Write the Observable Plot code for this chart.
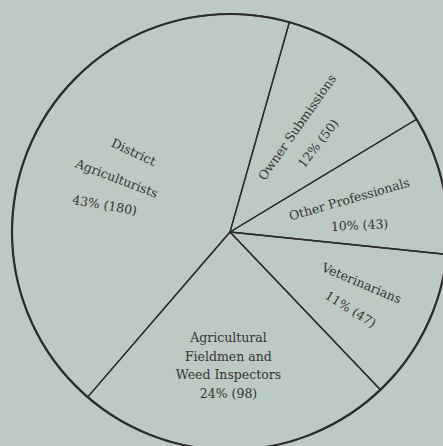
<!DOCTYPE html>
<html><head><meta charset="utf-8">
<script src="https://cdn.jsdelivr.net/npm/d3@7"></script>
<script src="https://cdn.jsdelivr.net/npm/@observablehq/plot@0.6"></script>
<style>html,body{margin:0;padding:0;background:#bdc9c3;overflow:hidden}</style>
</head><body><div id="chart"></div>
<script>
// ---- data ----
const categories = ["Owner Submissions", "Other Professionals", "Veterinarians", "Agricultural Fieldmen and Weed Inspectors", "District Agriculturists"];
const counts = [50, 43, 47, 98, 180];
const percents = [12, 10, 11, 24, 43];
const labelLines = [["Owner Submissions"], ["Other Professionals"], ["Veterinarians"], ["Agricultural", "Fieldmen and", "Weed Inspectors"], ["District", "Agriculturists"]];

// ---- layout (not data) ----
const startDeg = 15.8;           // first slice boundary, clockwise from 12 o'clock
const W = 443, H = 446, CX = 230, CY = 232, R = 218;
// label line placement: slice index, line index (-1 = percent line), polar angle (deg), radius fraction, rotation
const labelLayout = [
  {s: 4, l: 0, a: 309.5, r: 0.577, rot: 25},
  {s: 4, l: 1, a: 295.3, r: 0.578, rot: 21},
  {s: 4, l: -1, a: 282.1, r: 0.591, rot: 10},
  {s: 0, l: 0, a: 32.5, r: 0.571, rot: -55},
  {s: 0, l: -1, a: 44.7, r: 0.574, rot: -52},
  {s: 1, l: 0, a: 74.5, r: 0.566, rot: -16},
  {s: 1, l: -1, a: 86.9, r: 0.593, rot: -3},
  {s: 2, l: 0, a: 111.3, r: 0.645, rot: 23},
  {s: 2, l: -1, a: 122.7, r: 0.654, rot: 32},
  {s: 3, l: 0, a: 181.1, r: 0.486, rot: 0},
  {s: 3, l: 1, a: 181.0, r: 0.573, rot: 0},
  {s: 3, l: 2, a: 180.8, r: 0.656, rot: 0},
  {s: 3, l: -1, a: 180.7, r: 0.743, rot: 0}
];

const slices = categories.map((c, i) => ({category: c, count: counts[i], pct: percents[i]}));
const start = startDeg * Math.PI / 180;
const arcs = d3.pie().sort(null).value(d => d.count).startAngle(start).endAngle(start + 2 * Math.PI)(slices);

const labels = labelLayout.map(d => {
  const sl = slices[d.s];
  const text = d.l < 0 ? `${sl.pct}% (${sl.count})` : labelLines[d.s][d.l];
  const a = d.a * Math.PI / 180;
  return {text, x: d.r * Math.sin(a), y: d.r * Math.cos(a), rot: d.rot};
});

const ink = "#2c2d2b";

function pieMark(index, scales) {
  const cx = scales.x(0), cy = scales.y(0), r = scales.x(1) - scales.x(0);
  const g = d3.create("svg:g").attr("transform", `translate(${cx},${cy})`);
  const arc = d3.arc().innerRadius(0).outerRadius(r);
  g.selectAll("path").data(arcs).join("path")
    .attr("d", arc).attr("fill", "none").attr("stroke", ink).attr("stroke-width", 1.3).attr("stroke-linejoin", "round");
  g.append("circle").attr("r", r).attr("fill", "none").attr("stroke", ink).attr("stroke-width", 2.2);
  return g.node();
}

const chart = Plot.plot({
  width: W, height: H, margin: 0,
  x: {domain: [-CX / R, (W - CX) / R], axis: null},
  y: {domain: [-(H - CY) / R, CY / R], axis: null},
  style: {background: "transparent"},
  marks: [
    pieMark,
    Plot.text(labels, {x: "x", y: "y", text: "text", rotate: "rot",
      fontSize: 12.5, fontFamily: "DejaVu Serif", fill: "#343533"})
  ]
});
document.getElementById("chart").append(chart);
</script>
</body></html>
